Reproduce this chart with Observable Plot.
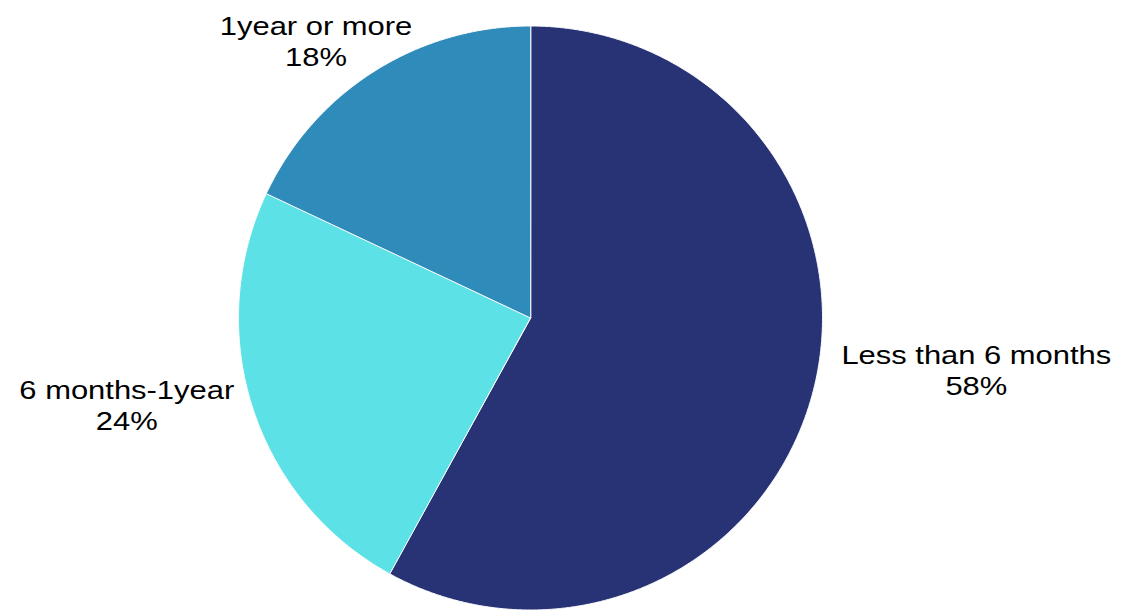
<!DOCTYPE html>
<html><head><meta charset="utf-8">
<script src="https://cdn.jsdelivr.net/npm/d3@7"></script>
<script src="https://cdn.jsdelivr.net/npm/@observablehq/plot@0.6"></script>
<style>body{margin:0;background:#fff} svg{display:block}</style>
</head><body><div id="chart"></div>
<script>
const categories = ["Less than 6 months", "6 months-1year", "1year or more"];
const shares = [58, 24, 18];
const sliceColors = ["#283375", "#5CE1E6", "#2E8BBA"];
const labelOffsets = [[163, -21], [-126, -4], [-58, -31]];

const W = 1125, H = 610, cx = 530, cy = 317.5, R = 292;
const pie = d3.pie().sort(null).value(d => d.share)(categories.map((c, i) => ({cat: c, share: shares[i]})));
const pts = [];
pie.forEach(s => {
  pts.push({cat: s.data.cat, x: 0, y: 0});
  const n = Math.max(2, Math.ceil((s.endAngle - s.startAngle) / (Math.PI / 720)));
  for (let k = 0; k <= n; k++) {
    const a = s.startAngle + (s.endAngle - s.startAngle) * k / n;
    pts.push({cat: s.data.cat, x: Math.sin(a), y: Math.cos(a)});
  }
});
const labels = pie.map(s => {
  const a = (s.startAngle + s.endAngle) / 2;
  return {cat: s.data.cat, text: s.data.cat + "\n" + s.data.share + "%", x: Math.sin(a), y: Math.cos(a)};
});

const plot = Plot.plot({
  width: W, height: H, margin: 0,
  x: {domain: [-cx / R, (W - cx) / R], range: [0, W], axis: null},
  y: {domain: [-(H - cy) / R, cy / R], range: [H, 0], axis: null},
  color: {domain: categories, range: sliceColors},
  style: {fontFamily: "'Liberation Sans', Arial, sans-serif", background: "white"},
  marks: [
    Plot.line(pts, {x: "x", y: "y", z: "cat", fill: "cat", stroke: "white", strokeWidth: 1, curve: "linear-closed"}),
    ...labels.map((l, i) => Plot.text([l], {
      x: "x", y: "y", text: "text",
      dx: labelOffsets[i][0], dy: labelOffsets[i][1],
      fontSize: 26, lineHeight: 1.2, fill: "#000", textAnchor: "middle"
    }))
  ]
});
plot.querySelectorAll("text").forEach(t => {
  const tr = t.getAttribute("transform");
  if (tr) t.setAttribute("transform", tr + " scale(1.19,1)");
  else {
    const x = +t.getAttribute("x") || 0, y = +t.getAttribute("y") || 0;
    t.removeAttribute("x"); t.removeAttribute("y");
    t.setAttribute("transform", `translate(${x},${y}) scale(1.19,1)`);
  }
});
document.getElementById("chart").appendChild(plot);
</script>
</body></html>
